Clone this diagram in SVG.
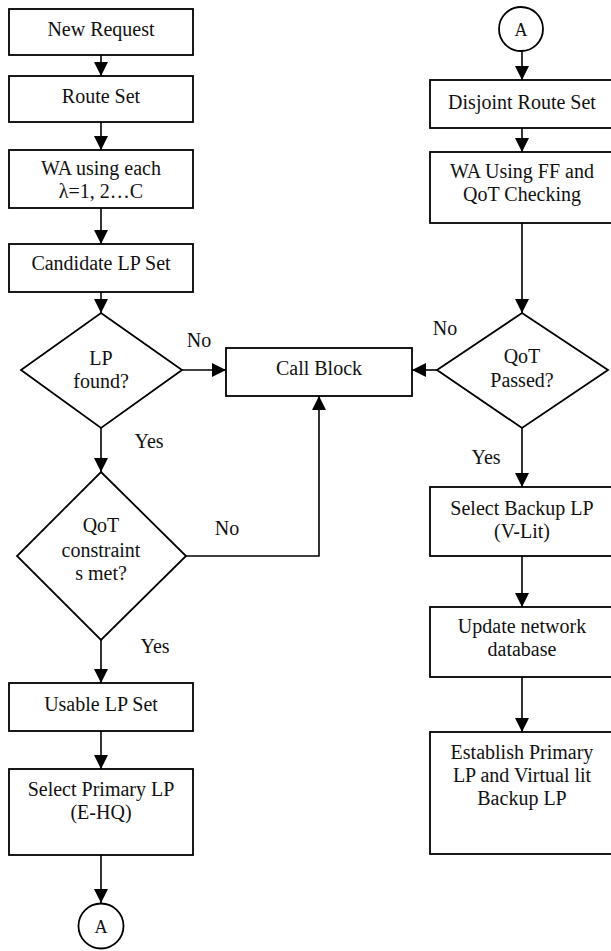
<svg xmlns="http://www.w3.org/2000/svg" width="611" height="951" viewBox="0 0 611 951" font-family="'Liberation Serif', 'Times New Roman', 'DejaVu Serif', serif">
  <style>
    .box { fill: #ffffff; stroke: #000000; stroke-width: 1.8; }
    .conn { fill: none; stroke: #000000; stroke-width: 1.6; }
    text { font-family: 'Liberation Serif', 'Times New Roman', 'DejaVu Serif', serif; font-size: 20px; fill: #111111; text-anchor: middle; }
    .small { font-size: 18px; }
  </style>
  <defs>
    <marker id="ah" markerWidth="15" markerHeight="15" refX="14" refY="7.5" orient="auto" markerUnits="userSpaceOnUse">
      <path d="M0,0.5 L14,7.5 L0,14.5 z" fill="#000000"/>
    </marker>
  </defs>
  <rect width="611" height="951" fill="#ffffff"/>

  <!-- connectors -->
  <g id="connectors">
    <line class="conn" x1="101" y1="55" x2="101" y2="76" marker-end="url(#ah)"/>
    <line class="conn" x1="101" y1="122" x2="101" y2="150" marker-end="url(#ah)"/>
    <line class="conn" x1="101" y1="208" x2="101" y2="244" marker-end="url(#ah)"/>
    <line class="conn" x1="101" y1="292" x2="101" y2="313" marker-end="url(#ah)"/>
    <line class="conn" x1="182" y1="370" x2="226" y2="370" marker-end="url(#ah)"/>
    <line class="conn" x1="101" y1="428" x2="101" y2="472" marker-end="url(#ah)"/>
    <polyline class="conn" points="186,556 319,556 319,396" marker-end="url(#ah)"/>
    <line class="conn" x1="101" y1="640" x2="101" y2="683" marker-end="url(#ah)"/>
    <line class="conn" x1="101" y1="731" x2="101" y2="769" marker-end="url(#ah)"/>
    <line class="conn" x1="101" y1="855" x2="101" y2="903" marker-end="url(#ah)"/>

    <line class="conn" x1="522" y1="51" x2="522" y2="80" marker-end="url(#ah)"/>
    <line class="conn" x1="522" y1="128" x2="522" y2="152" marker-end="url(#ah)"/>
    <line class="conn" x1="522" y1="223" x2="522" y2="313" marker-end="url(#ah)"/>
    <line class="conn" x1="437" y1="370" x2="412" y2="370" marker-end="url(#ah)"/>
    <line class="conn" x1="522" y1="428" x2="522" y2="487" marker-end="url(#ah)"/>
    <line class="conn" x1="522" y1="556" x2="522" y2="607" marker-end="url(#ah)"/>
    <line class="conn" x1="522" y1="677" x2="522" y2="732" marker-end="url(#ah)"/>

    <text x="199" y="347">No</text>
    <text x="149" y="448">Yes</text>
    <text x="227" y="535">No</text>
    <text x="155" y="653">Yes</text>
    <text x="445" y="335">No</text>
    <text x="486" y="464">Yes</text>
  </g>

  <!-- left column -->
  <g id="new-request">
    <rect class="box" x="9" y="9" width="184" height="46"/>
    <text x="101" y="36">New Request</text>
  </g>
  <g id="route-set">
    <rect class="box" x="9" y="76" width="184" height="46"/>
    <text x="101" y="103">Route Set</text>
  </g>
  <g id="wa-each">
    <rect class="box" x="9" y="150" width="184" height="58"/>
    <text x="101" y="175">WA using each</text>
    <text x="101" y="198">λ=1, 2…C</text>
  </g>
  <g id="candidate-lp">
    <rect class="box" x="9" y="244" width="184" height="48"/>
    <text x="101" y="270">Candidate LP Set</text>
  </g>
  <g id="lp-found">
    <polygon class="box" points="101,313 182,370 101,428 21,370"/>
    <text x="101" y="365">LP</text>
    <text x="101" y="388">found?</text>
  </g>
  <g id="qot-met">
    <polygon class="box" points="101,472 186,556 101,640 17,556"/>
    <text x="101" y="532">QoT</text>
    <text x="101" y="557">constraint</text>
    <text x="101" y="580">s met?</text>
  </g>
  <g id="usable-lp">
    <rect class="box" x="9" y="683" width="184" height="48"/>
    <text x="101" y="711">Usable LP Set</text>
  </g>
  <g id="select-primary">
    <rect class="box" x="9" y="769" width="184" height="86"/>
    <text x="101" y="796">Select Primary LP</text>
    <text x="101" y="819">(E-HQ)</text>
  </g>
  <g id="connector-a-out">
    <circle class="box" cx="101" cy="926" r="22.5"/>
    <text class="small" x="101" y="933">A</text>
  </g>

  <!-- centre -->
  <g id="call-block">
    <rect class="box" x="226" y="348" width="186" height="48"/>
    <text x="319" y="375">Call Block</text>
  </g>

  <!-- right column -->
  <g id="connector-a-in">
    <circle class="box" cx="521" cy="29" r="22"/>
    <text class="small" x="521" y="36">A</text>
  </g>
  <g id="disjoint-route">
    <rect class="box" x="430" y="80" width="184" height="48"/>
    <text x="522" y="109">Disjoint Route Set</text>
  </g>
  <g id="wa-ff">
    <rect class="box" x="430" y="152" width="184" height="71"/>
    <text x="522" y="178">WA Using FF and</text>
    <text x="522" y="201">QoT Checking</text>
  </g>
  <g id="qot-passed">
    <polygon class="box" points="522,313 608,370 522,428 437,370"/>
    <text x="522" y="363">QoT</text>
    <text x="522" y="387">Passed?</text>
  </g>
  <g id="select-backup">
    <rect class="box" x="430" y="487" width="184" height="69"/>
    <text x="522" y="515">Select Backup LP</text>
    <text x="522" y="538">(V-Lit)</text>
  </g>
  <g id="update-db">
    <rect class="box" x="430" y="607" width="184" height="70"/>
    <text x="522" y="633">Update network</text>
    <text x="522" y="656">database</text>
  </g>
  <g id="establish">
    <rect class="box" x="430" y="732" width="184" height="122"/>
    <text x="522" y="759">Establish Primary</text>
    <text x="522" y="782">LP and Virtual lit</text>
    <text x="522" y="805">Backup LP</text>
  </g>
</svg>
